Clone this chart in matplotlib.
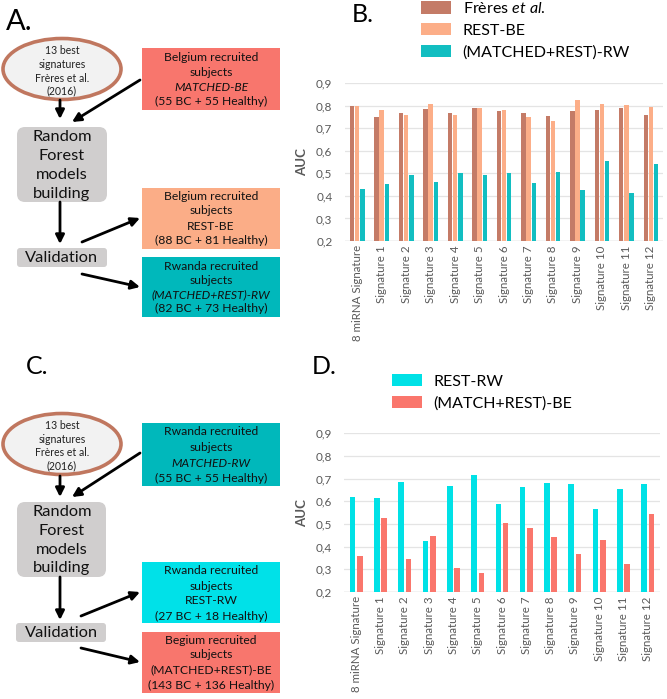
import matplotlib
matplotlib.use("Agg")
import matplotlib.pyplot as plt
from matplotlib.patches import FancyBboxPatch, Rectangle, Ellipse, FancyArrowPatch
import numpy as np

plt.rcParams['font.family'] = ['Lato', 'DejaVu Sans']
plt.rcParams['mathtext.fontset'] = 'custom'
plt.rcParams['mathtext.it'] = 'Lato:italic'
plt.rcParams['mathtext.rm'] = 'Lato'

# ---------------- data ----------------
categories = ["8 miRNA Signature"] + [f"Signature {i}" for i in range(1, 13)]

freres = [0.797, 0.750, 0.765, 0.785, 0.765, 0.788, 0.776, 0.768, 0.753, 0.776, 0.780, 0.788, 0.759]
rest_be = [0.800, 0.782, 0.757, 0.809, 0.760, 0.790, 0.781, 0.749, 0.732, 0.823, 0.809, 0.803, 0.793]
matched_rest_rw = [0.431, 0.453, 0.491, 0.462, 0.500, 0.493, 0.501, 0.456, 0.504, 0.425, 0.553, 0.412, 0.541]

rest_rw = [0.619, 0.613, 0.684, 0.424, 0.669, 0.714, 0.586, 0.663, 0.681, 0.678, 0.565, 0.654, 0.678]
match_rest_be = [0.357, 0.528, 0.344, 0.446, 0.307, 0.285, 0.503, 0.481, 0.443, 0.369, 0.428, 0.322, 0.543]

yticks = [0.2, 0.3, 0.4, 0.5, 0.6, 0.7, 0.8, 0.9]
ytick_labels = ["0,2", "0,3", "0,4", "0,5", "0,6", "0,7", "0,8", "0,9"]

# ---------------- colours ----------------
C_FRERES = "#C47B67"
C_RESTBE = "#FCAE88"
C_RW = "#12BEC1"
C_RESTRW = "#00E1E6"
C_BE = "#FA766C"
C_GRAYBOX = "#D0CECE"
C_TEXT = "#595959"

W, H = 667, 699
fig = plt.figure(figsize=(W / 100, H / 100), dpi=100)

# background axes in pixel coordinates for the flowcharts
fa = fig.add_axes([0, 0, 1, 1])
fa.set_xlim(0, W)
fa.set_ylim(H, 0)
fa.axis("off")

BOX_FS = 8.7


def box(x0, y0, x1, y1, color, rounded=False):
    if rounded:
        p = FancyBboxPatch((x0, y0), x1 - x0, y1 - y0,
                           boxstyle=f"round,pad=0,rounding_size={rounded}",
                           fc=color, ec="none")
    else:
        p = Rectangle((x0, y0), x1 - x0, y1 - y0, fc=color, ec="none")
    fa.add_patch(p)


def lines_text(xc, ys, lines, fs, italic_idx=None, color="#111111"):
    for i, (y, t) in enumerate(zip(ys, lines)):
        fa.text(xc, y, t, ha="center", va="center", fontsize=fs, color=color,
                style="italic" if i == italic_idx else "normal")


def arrow(x0, y0, x1, y1):
    a = FancyArrowPatch((x0, y0), (x1, y1), arrowstyle="-|>", mutation_scale=13,
                        lw=2.0, color="black", shrinkA=0, shrinkB=0)
    fa.add_patch(a)


def ellipse(xc, yc, w, h, ys):
    e = Ellipse((xc, yc), w, h, fc="#F2F2F2", ec="#C0775F", lw=2.6)
    fa.add_patch(e)
    lines_text(xc, ys, ["13 best", "signatures", "Frères et al.", "(2016)"], 7.6, color="#222222")


# ---------- Panel A ----------
fa.text(6, 22, "A.", fontsize=21, va="center", ha="left")
ellipse(62, 69, 118, 61, [51, 64.5, 78, 91])
box(142, 48, 280, 110, "#F8766D")
lines_text(211, [57.3, 72.4, 87.3, 101.7],
           ["Belgium recruited", "subjects", "MATCHED-BE", "(55 BC + 55 Healthy)"], BOX_FS, italic_idx=2)
arrow(60, 100, 60, 119)
arrow(140, 80, 72, 122)
box(17, 127, 107, 202, C_GRAYBOX, rounded=8)
lines_text(62, [137, 156, 175, 194], ["Random", "Forest", "models", "building"], 11.8)
arrow(60, 202, 60, 244)
box(17, 248, 107, 267, C_GRAYBOX, rounded=3)
lines_text(62, [257.5], ["Validation"], 11.8)
box(142, 188, 280, 249, "#FBAD87")
lines_text(211, [196, 211, 226, 240.7],
           ["Belgium recruited", "subjects", "REST-BE", "(88 BC + 81 Healthy)"], BOX_FS)
arrow(82, 242, 140, 218)
box(142, 257, 280, 317, "#00B8BB")
lines_text(211, [266, 280, 294.3, 308.3],
           ["Rwanda recruited", "subjects", "(MATCHED+REST)-RW", "(82 BC + 73 Healthy)"], BOX_FS, italic_idx=2)
arrow(82, 274, 140, 287)

# ---------- Panel C ----------
fa.text(26, 367, "C.", fontsize=18, va="center", ha="left")
ellipse(62, 444, 118, 61, [425.7, 439.5, 452.7, 465.3])
box(142, 423, 280, 486, "#00B8BB")
lines_text(211, [431.7, 447.3, 463.3, 478.3],
           ["Rwanda recruited", "subjects", "MATCHED-RW", "(55 BC + 55 Healthy)"], BOX_FS, italic_idx=2)
arrow(60, 476, 60, 497)
arrow(140, 453, 72, 497)
box(17, 502, 106, 577, C_GRAYBOX, rounded=8)
lines_text(62, [511.7, 530.7, 550, 568.3], ["Random", "Forest", "models", "building"], 11.8)
arrow(60, 577, 60, 620)
box(16, 623, 106, 642, C_GRAYBOX, rounded=3)
lines_text(62, [632.7], ["Validation"], 11.8)
box(142, 562, 280, 623, "#00E1E8")
lines_text(211, [571, 586, 600.7, 616],
           ["Rwanda recruited", "subjects", "REST-RW", "(27 BC + 18 Healthy)"], BOX_FS)
arrow(81, 616, 140, 592)
box(142, 632, 280, 693, "#F8766D")
lines_text(211, [640, 655, 670, 685],
           ["Begium recruited", "subjects", "(MATCHED+REST)-BE", "(143 BC + 136 Healthy)"], BOX_FS)
arrow(81, 648, 140, 662)

fa.text(352, 15, "B.", fontsize=18, va="center", ha="left")
fa.text(312, 367, "D.", fontsize=18, va="center", ha="left")


# ---------------- bar charts ----------------
def style_axes(ax):
    ax.set_xlim(-0.5, len(categories) - 0.5)
    ax.set_ylim(0.2, 0.9)
    ax.set_yticks(yticks)
    ax.set_yticklabels(ytick_labels)
    ax.set_xticks(np.arange(len(categories)))
    ax.set_xticklabels(categories, rotation=90, va="top", ha="center")
    for s in ax.spines.values():
        s.set_visible(False)
    ax.grid(axis="y", color="#E4E4E4", lw=0.9, zorder=0)
    ax.set_axisbelow(True)
    ax.tick_params(axis="both", length=0, colors=C_TEXT)
    ax.tick_params(axis="x", labelsize=8.3, pad=3)
    ax.tick_params(axis="y", labelsize=8.5, pad=9)
    ax.axhline(0.2, color="#D6D6D6", lw=1.0, zorder=1)
    ax.set_ylabel("AUC", fontsize=9.5, fontweight="bold", color=C_TEXT)
    ax.patch.set_alpha(0)


x = np.arange(len(categories))

axB = fig.add_axes([345 / W, 1 - 241 / H, 318 / W, 158 / H])
b1 = axB.bar(x - 0.205, freres, width=0.18, color=C_FRERES, zorder=2, label="Frères $\\it{et\\ al.}$")
b2 = axB.bar(x, rest_be, width=0.18, color=C_RESTBE, zorder=2, label="REST-BE")
b3 = axB.bar(x + 0.215, matched_rest_rw, width=0.18, color=C_RW, zorder=2, label="(MATCHED+REST)-RW")
style_axes(axB)
axB.yaxis.set_label_coords(-0.115, 0.5)
fig.legend(handles=[b1, b2, b3], loc="upper left", bbox_to_anchor=(421 / W, 1 - 1 / H),
           frameon=False, fontsize=11.5, handlelength=1.85, handleheight=0.8,
           handletextpad=0.75, labelspacing=0.45, borderpad=0, borderaxespad=0)

axD = fig.add_axes([344 / W, 1 - 592 / H, 316 / W, 158.7 / H])
d1 = axD.bar(x - 0.15, rest_rw, width=0.23, color=C_RESTRW, zorder=2, label="REST-RW")
d2 = axD.bar(x + 0.15, match_rest_be, width=0.23, color=C_BE, zorder=2, label="(MATCH+REST)-BE")
style_axes(axD)
axD.yaxis.set_label_coords(-0.115, 0.5)
fig.legend(handles=[d1, d2], loc="upper left", bbox_to_anchor=(392 / W, 1 - 374 / H),
           frameon=False, fontsize=11.5, handlelength=1.85, handleheight=0.8,
           handletextpad=0.75, labelspacing=0.45, borderpad=0, borderaxespad=0)

fig.savefig("out.png", dpi=100)
